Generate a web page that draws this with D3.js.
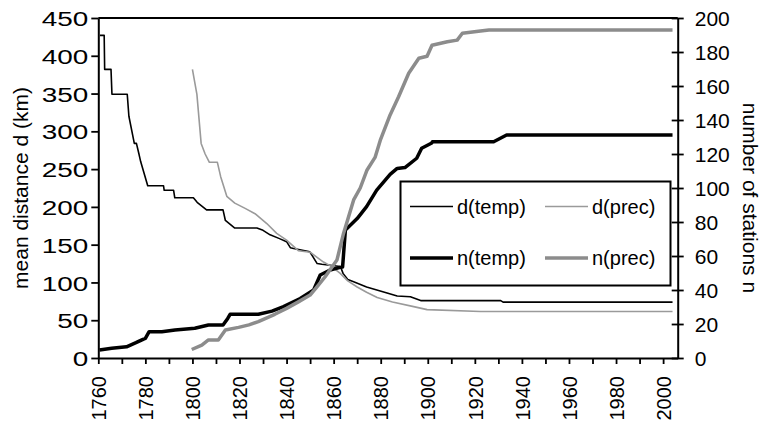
<!DOCTYPE html>
<html><head><meta charset="utf-8">
<script src="https://cdn.jsdelivr.net/npm/d3@7"></script>
<style>
html,body{margin:0;padding:0;background:#fff;}
svg{display:block;font-family:"Liberation Sans",Arial,sans-serif;}
</style></head>
<body>
<svg id="chart" width="763" height="433"></svg>
<script>
// ---- data ----
const dTempYears = [1760.7,1762.5,1762.7,1765.4,1765.8,1772.3,1773,1775.3,1776.2,1777.2,1778,1781,1787.7,1788,1792,1792.5,1800.4,1802,1806,1813,1814,1818,1827.4,1830,1833,1837,1840,1841.6,1843,1849.4,1850,1853,1855,1862.9,1864,1866,1868.5,1874,1882.7,1887,1892.6,1897,1931,1932,2004];
const dTempValues = [427,427,382,382,349,349,320,284,284,271,260,228,228,222,222,212,212,206,196,196,182,172,172,169,163,158,154,146,145,141,140,125,124,121,112,104,101,94,86,82,81,76,76,74,74];

const dPrecYears = [1800,1801.9,1803.7,1805.4,1807.2,1810.6,1812,1814.6,1818,1822.4,1826.6,1831.6,1835.8,1840,1845,1850,1855.7,1859.2,1862.8,1866,1870,1874,1878.5,1885,1894,1899.7,1922.4,2004];
const dPrecValues = [382,349,284,270,259,259,240,214,205,198,191,178,165,156,142,140,127,121,112,102,94,87,80,74,68,64,61.5,61.5];

const nTempYears = [1760.5,1765.7,1772,1776,1779,1780,1781.6,1787,1792.6,1801,1806.8,1813,1815,1816,1828,1833.8,1838.7,1845.8,1851.5,1854.3,1858.5,1862.8,1863.8,1865,1870,1874,1878.3,1884,1887,1890.3,1895.3,1897.4,1901.7,1902,1928,1933.5,2004];
const nTempValues = [4.7,5.7,6.6,9,11,11.5,15.5,15.5,16.5,17.5,19.4,19.4,23.3,25.7,25.7,27.6,30.2,35,40,48.8,51.8,53.3,53.5,75.3,82,89,98.8,108,111.5,112,117.5,123.4,126.5,127.2,127.2,131.2,131.2];

const nPrecYears = [1799.7,1804,1806.8,1811,1814,1819.6,1824,1828,1835,1840,1845,1850,1853,1856.4,1861.4,1864.2,1868.5,1871.3,1874.2,1877.6,1879.8,1884,1887.6,1891.9,1896.2,1899.7,1901.8,1908.3,1912.5,1914.7,1922.4,1926,2004];
const nPrecValues = [5,7.6,10.6,10.6,16.5,18,19.5,21.4,25.7,29.2,33,37,42,47.8,57.6,73.3,93,100,110.6,118,128,143,153.7,167.5,176.3,177.5,184,186,187,191,192.4,193,193];

const leftTicks = [0,50,100,150,200,250,300,350,400,450];
const rightTicks = [0,20,40,60,80,100,120,140,160,180,200];
const xTicks = d3.range(1760, 2001, 10);
const xLabelYears = [1760,1780,1800,1820,1840,1860,1880,1900,1920,1940,1960,1980,2000];
const leftTitle = "mean distance d (km)";
const rightTitle = "number of stations n";
const seriesNames = ["d(temp)","d(prec)","n(temp)","n(prec)"];

// ---- layout ----
const L = 98.3, R = 677.7, T = 18, B = 358;
const svg = d3.select("#chart");
const x = d3.scaleLinear().domain([1760, 2006.2]).range([L, R]);
const yL = d3.scaleLinear().domain([0, 450]).range([B, T]);
const yR = d3.scaleLinear().domain([0, 200]).range([B, T]);

const series = [
  {name: seriesNames[0], years: dTempYears, vals: dTempValues, y: yL, color: "#000", w: 1.6},
  {name: seriesNames[1], years: dPrecYears, vals: dPrecValues, y: yL, color: "#9a9a9a", w: 1.6},
  {name: seriesNames[2], years: nTempYears, vals: nTempValues, y: yR, color: "#000", w: 3.5},
  {name: seriesNames[3], years: nPrecYears, vals: nPrecValues, y: yR, color: "#8c8c8c", w: 3.5}
];

// lines
series.forEach(s => {
  const pts = s.years.map((yr, i) => [yr, s.vals[i]]);
  const line = d3.line().x(d => x(d[0])).y(d => s.y(d[1]));
  svg.append("path").datum(pts).attr("d", line)
    .attr("fill", "none").attr("stroke", s.color).attr("stroke-width", s.w)
    .attr("stroke-linejoin", "round");
});

// top border
svg.append("line").attr("x1", L).attr("x2", R).attr("y1", T).attr("y2", T)
  .attr("stroke", "#000").attr("stroke-width", 2);

const fs = 21;
// left axis
const gL = svg.append("g").attr("transform", `translate(${L},0)`)
  .call(d3.axisLeft(yL).tickValues(leftTicks).tickSizeInner(7).tickSizeOuter(0));
gL.selectAll("text").attr("x", null).attr("dy", "0.36em")
  .attr("transform", "translate(-10,0) scale(1.33,1)")
  .style("font-size", fs + "px").attr("fill", "#000");

// right axis
const gR = svg.append("g").attr("transform", `translate(${R},0)`)
  .call(d3.axisRight(yR).tickValues(rightTicks).tickSizeInner(6).tickSizeOuter(0));
gR.selectAll(".tick line").attr("x1", -6).attr("x2", 6);
gR.selectAll("text").attr("x", 17).attr("dy", "0.36em")
  .style("font-size", fs + "px").attr("fill", "#000");

// bottom axis
const gB = svg.append("g").attr("transform", `translate(0,${B})`)
  .call(d3.axisBottom(x).tickValues(xTicks).tickSizeInner(6).tickSizeOuter(0)
    .tickFormat(d => xLabelYears.includes(d) ? String(d) : ""));
gB.selectAll("text").attr("y", 0).attr("x", -18).attr("dy", "0.36em")
  .attr("transform", "rotate(-90)").attr("text-anchor", "end")
  .style("font-size", "20px").attr("fill", "#000");

[gL, gR, gB].forEach(g => {
  g.select(".domain").attr("stroke", "#000").attr("stroke-width", 2);
  g.selectAll(".tick line").attr("stroke", "#000").attr("stroke-width", 1.8);
  g.attr("font-family", null).attr("font-size", null);
});

// axis titles
svg.append("text").text(leftTitle)
  .attr("transform", `translate(21,${(T + B) / 2}) rotate(-90)`)
  .attr("text-anchor", "middle").attr("dy", "0.35em")
  .style("font-size", "21px");
svg.append("text").text(rightTitle)
  .attr("transform", `translate(750,${(T + B) / 2 + 10}) rotate(90)`)
  .attr("text-anchor", "middle").attr("dy", "0.35em")
  .style("font-size", "21px");

// legend
const lg = svg.append("g");
lg.append("rect").attr("x", 400.5).attr("y", 181.5).attr("width", 270).attr("height", 104)
  .attr("fill", "#fff").attr("stroke", "#000").attr("stroke-width", 2);
const legPos = [
  {sx: 410, ty: 206.5}, {sx: 545, ty: 206.5},
  {sx: 410, ty: 258}, {sx: 545, ty: 258}
];
series.forEach((s, i) => {
  const p = legPos[i];
  lg.append("line").attr("x1", p.sx).attr("x2", p.sx + 43).attr("y1", p.ty).attr("y2", p.ty)
    .attr("stroke", s.color).attr("stroke-width", s.w);
  lg.append("text").text(s.name).attr("x", p.sx + 47).attr("y", p.ty).attr("dy", "0.35em")
    .style("font-size", "20px");
});
</script>
</body></html>
